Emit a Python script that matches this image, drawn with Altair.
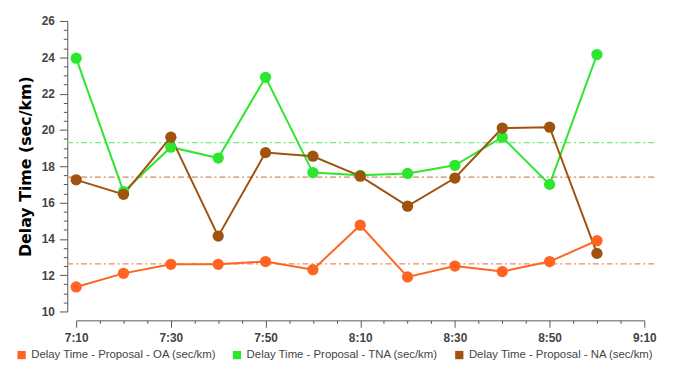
import altair as alt
import pandas as pd

times = ["7:10", "7:20", "7:30", "7:40", "7:50", "8:00", "8:10", "8:20", "8:30", "8:40", "8:50", "9:00"]
oa = [11.35, 12.1, 12.6, 12.6, 12.75, 12.3, 14.75, 11.9, 12.5, 12.2, 12.75, 13.9]
tna = [23.95, 16.6, 19.05, 18.45, 22.9, 17.65, 17.5, 17.6, 18.05, 19.6, 17.0, 24.15]
na = [17.25, 16.45, 19.6, 14.15, 18.75, 18.55, 17.45, 15.8, 17.35, 20.1, 20.15, 13.2]
series = ["Delay Time - Proposal - OA (sec/km)",
          "Delay Time - Proposal - TNA (sec/km)",
          "Delay Time - Proposal - NA (sec/km)"]
ref_levels = [12.62, 19.3, 17.4]
colors = ["#FF6422", "#2EE62E", "#A0520F"]
ref_colors = ["#F28A5C", "#70EE70", "#C98E62"]


def to_min(t):
    h, m = t.split(":")
    return int(h) * 60 + int(m)


rows = []
for name, vals in zip(series, [oa, tna, na]):
    for t, v in zip(times, vals):
        rows.append({"series": name, "t": to_min(t), "value": v})
df = pd.DataFrame(rows)
ref_df = pd.DataFrame({"series": series, "level": ref_levels, "rc": ref_colors})

W, H = 575, 294
x_ticks = list(range(430, 551, 5))
y_ticks = [10 + 0.5 * i for i in range(33)]

color_scale = alt.Scale(domain=series, range=colors)
x_scale = alt.Scale(domain=[430, 550], nice=False, zero=False)
y_scale = alt.Scale(domain=[10, 26], nice=False, zero=False)


def make_x_axis():
    return alt.Axis(
        values=x_ticks,
        labelExpr="datum.value % 20 == 10 ? floor(datum.value / 60) + ':' + (datum.value % 60 < 10 ? '0' : '') + (datum.value % 60) : ''",
        tickSize={"condition": {"test": "datum.value % 20 == 10", "value": 7}, "value": 3},
        title=None,
        grid=False,
        offset=9,
        domainColor="#555555",
        tickColor="#555555",
        labelColor="#444444",
        labelFont="Liberation Sans",
        labelFontWeight="bold",
        labelFontSize=12,
        labelPadding=5,
        labelFlush=False,
        labelOverlap=False,
    )


def make_y_axis():
    return alt.Axis(
        values=y_ticks,
        labelExpr="datum.value % 2 == 0 ? datum.value : ''",
        tickSize={"condition": {"test": "datum.value % 2 == 0", "value": 8}, "value": 4},
        title="Delay Time (sec/km)",
        titleFont="DejaVu Sans",
        titleFontSize=16,
        titleFontWeight="bold",
        titleColor="#000000",
        titlePadding=8,
        grid=False,
        offset=9,
        domainColor="#555555",
        tickColor="#555555",
        labelColor="#444444",
        labelFont="Liberation Sans",
        labelFontWeight="bold",
        labelFontSize=12,
        labelPadding=5,
        labelOverlap=False,
    )


refs = alt.Chart(ref_df).mark_rule(strokeWidth=1.2, strokeDash=[6, 3, 2, 3]).encode(
    y=alt.Y("level:Q", scale=y_scale, axis=make_y_axis()),
    x=alt.value(-9),
    x2=alt.value(W + 10),
    color=alt.Color("rc:N", scale=None, legend=None),
)

lines = alt.Chart(df).mark_line(strokeWidth=2).encode(
    x=alt.X("t:Q", scale=x_scale, axis=make_x_axis()),
    y=alt.Y("value:Q", scale=y_scale, axis=make_y_axis()),
    color=alt.Color("series:N", scale=color_scale, legend=None),
    detail="series:N",
)

points = alt.Chart(df).mark_circle(size=130, opacity=1).encode(
    x=alt.X("t:Q", scale=x_scale, axis=make_x_axis()),
    y=alt.Y("value:Q", scale=y_scale, axis=make_y_axis()),
    color=alt.Color(
        "series:N",
        scale=color_scale,
        sort=series,
        legend=alt.Legend(
            title=None,
            orient="none",
            legendX=-61,
            legendY=332,
            direction="horizontal",
            symbolType="square",
            symbolSize=70,
            symbolOpacity=1,
            labelFont="Liberation Sans",
            labelFontSize=11.5,
            labelColor="#444444",
            columnPadding=15,
            labelOffset=4,
            labelLimit=300,
        ),
    ),
)

chart = alt.layer(refs, lines, points).resolve_legend(color="independent").properties(
    width=W,
    height=H,
    background="white",
    autosize=alt.AutoSizeParams(type="none"),
    padding={"left": 69, "top": 11, "right": 25, "bottom": 49},
).configure_view(strokeWidth=0, strokeOpacity=0)

chart.save("out.html", embed_options={"renderer": "svg", "actions": False})
